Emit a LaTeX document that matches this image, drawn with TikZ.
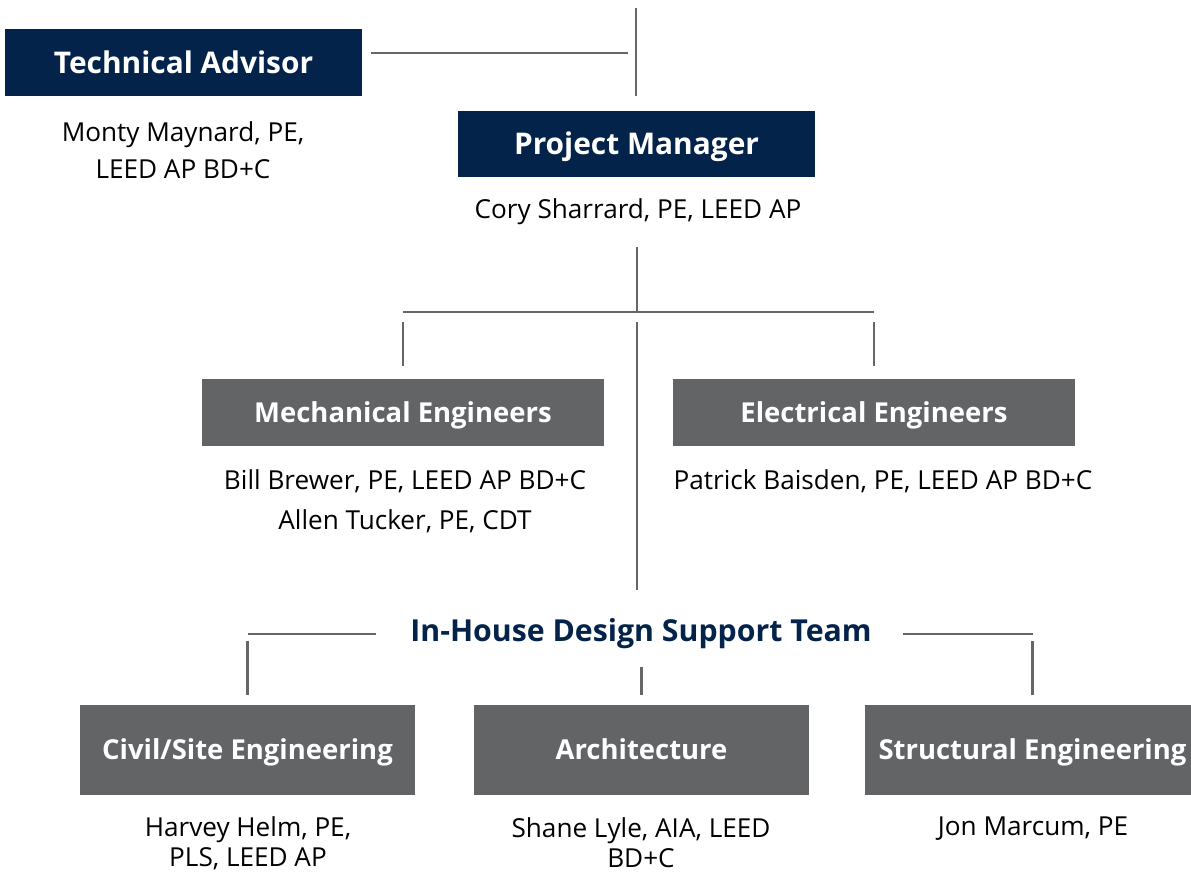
\documentclass[tikz,border=0pt]{standalone}
\usepackage{fontspec}
\setmainfont{Open Sans}
\usetikzlibrary{positioning}

\definecolor{navy}{HTML}{03234A}
\definecolor{boxgray}{HTML}{636466}
\definecolor{linegray}{HTML}{666666}

\tikzset{
    head/.style={fill=navy, text=white, font=\fontsize{22.4}{26}\selectfont\bfseries,
        minimum width=268pt, minimum height=50pt, inner sep=0pt,
        text height=16pt, text depth=0pt},
    team/.style={fill=boxgray, text=white, font=\fontsize{20.6}{24}\selectfont\bfseries,
        minimum width=302pt, minimum height=50pt, inner sep=0pt,
        text height=14.7pt, text depth=0pt},
    unit/.style={team, minimum width=251pt, minimum height=67pt},
    who/.style={font=\fontsize{19.6}{29}\selectfont, align=center, inner sep=0pt},
    link/.style={draw=linegray, line width=2.2pt}
}

\begin{document}
\begin{tikzpicture}[x=0.75pt, y=-0.75pt]
    \useasboundingbox (0,0) rectangle (1191,872);
    % top level
    \node[head] (tech) at (183.5,62.5) {Technical Advisor};
    \node[who, font=\fontsize{19.6}{27.75}\selectfont] (techwho) at (183,150)
        {Monty Maynard, PE,\\LEED AP BD+C};
    \node[head] (pm) at (636.5,144) {Project Manager};
    \node[who] (pmwho) at (638,212) {Cory Sharrard, PE, LEED AP};
    % engineers
    \node[team] (mech) at (403,412.5) {Mechanical Engineers};
    \node[who, font=\fontsize{19.6}{30}\selectfont] (mechwho) at (405,501)
        {Bill Brewer, PE, LEED AP BD+C\\Allen Tucker, PE, CDT};
    \node[team] (elec) at (874,412.5) {Electrical Engineers};
    \node[who] (elecwho) at (883,481) {Patrick Baisden, PE, LEED AP BD+C};
    % support team
    \node[font=\fontsize{22.7}{26}\selectfont\bfseries, text=navy, inner sep=0pt]
        (support) at (641,634) {In-House Design Support Team};
    \node[unit] (civil) at (247.5,750) {Civil/Site Engineering};
    \node[who, font=\fontsize{19.6}{22.5}\selectfont] (civilwho) at (248,843)
        {Harvey Helm, PE,\\PLS, LEED AP};
    \node[unit] (arch) at (641.5,750) {Architecture};
    \node[who, font=\fontsize{19.6}{22.5}\selectfont] (archwho) at (641,843)
        {Shane Lyle, AIA, LEED\\BD+C};
    \node[unit] (struct) at (1032.5,750) {Structural Engineering};
    \node[who] (structwho) at (1033,829) {Jon Marcum, PE};

    % connectors
    \coordinate (top) at (636,8);
    \coordinate (tee) at (636,53);
    \coordinate (split) at (637,312);
    \coordinate (stem) at (637,590);
    \draw[link] (top) -- ([yshift=10.5pt]pm.north -| top);
    \draw[link] ([xshift=6.75pt]tech.east |- tee) -- ([xshift=-6pt]tee);
    \draw[link] (637,247) -- (split);
    \draw[link] (mech.north |- split) -- (elec.north |- split);
    \draw[link] ([yshift=-7.5pt]mech.north |- split) -- ([yshift=9.75pt]mech.north);
    \draw[link] ([yshift=-7.5pt]elec.north |- split) -- ([yshift=9.75pt]elec.north);
    \draw[link] ([yshift=-7.5pt]split) -- (stem);
    \draw[link] (civil.north |- support) -- ([xshift=-25.5pt]support.west);
    \draw[link] ([xshift=23.25pt]support.east) -- (struct.north |- support);
    \draw[link] ([yshift=-5.25pt]civil.north |- support) -- ([yshift=7.5pt]civil.north);
    \draw[link] ([yshift=-24.75pt]arch.north |- support) -- ([yshift=7.5pt]arch.north);
    \draw[link] ([yshift=-5.25pt]struct.north |- support) -- ([yshift=7.5pt]struct.north);
\end{tikzpicture}
\end{document}
